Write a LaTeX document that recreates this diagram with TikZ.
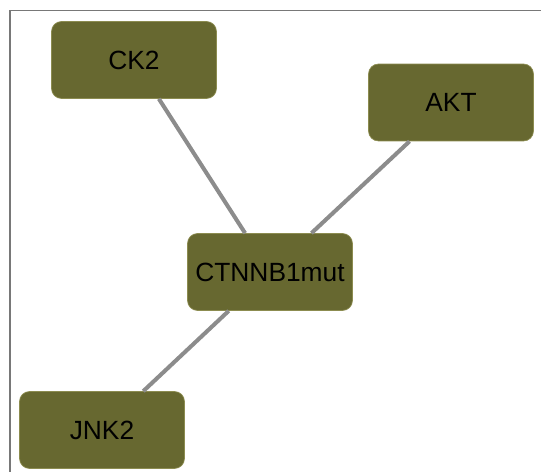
\documentclass[tikz,border=0pt]{standalone}
\usepackage{fontspec}
\setmainfont{Liberation Sans}
\usepackage{xcolor}
\usepackage{tikz}
\usetikzlibrary{positioning}

\definecolor{olivebox}{RGB}{103,104,48}
\definecolor{oliveedge}{RGB}{140,140,80}
\definecolor{edgegray}{RGB}{140,140,140}
\definecolor{framegray}{RGB}{120,120,120}

\tikzset{
    gene/.style={draw=oliveedge, line width=0.4pt, fill=olivebox, rounded corners=0.2cm,
        minimum width=3.3cm, minimum height=1.54cm, inner sep=0pt,
        font=\fontsize{15}{17}\selectfont},
    link/.style={draw=edgegray, line width=2.3pt}
}

\begin{document}
\begin{tikzpicture}[x=0.02cm, y=-0.02cm]
    \useasboundingbox (0,0) rectangle (541,472);
    % frame
    \draw[framegray, line width=0.9pt] (10,472) -- (10,10.5) -- (541,10.5);
    % nodes
    \node[gene] (mut) at (270,272) {CTNNB1mut};
    \node[gene] (ck2) at (134,60) {CK2};
    \node[gene] (akt) at (451,102.5) {AKT};
    \node[gene] (jnk2) at (102,430) {JNK2};
    % interactions
    \draw[link] (ck2) -- (mut);
    \draw[link] (akt) -- (mut);
    \draw[link] (jnk2) -- (mut);
\end{tikzpicture}
\end{document}
